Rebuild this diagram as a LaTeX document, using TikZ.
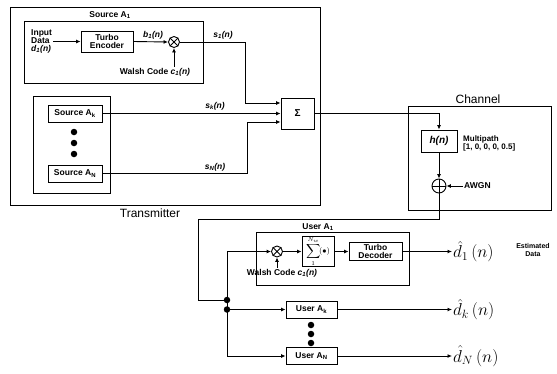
\documentclass[tikz,border=0pt]{standalone}
\usepackage{fontspec}
\setmainfont{Liberation Sans}
\usetikzlibrary{arrows.meta}
\begin{document}
\begin{tikzpicture}[x=1pt,y=-1pt,
  blk/.style={draw,line width=0.9pt,inner sep=0pt,align=center,font=\fontsize{8.5}{9}\selectfont\bfseries},
  lbl/.style={inner sep=1pt,font=\fontsize{8.5}{9}\selectfont\bfseries,align=left},
  ttl/.style={inner sep=1pt,font=\fontsize{12}{14}\selectfont},
  mth/.style={inner sep=1pt,font=\fontsize{17}{19}\selectfont,anchor=west},
  mul/.style={draw,circle,line width=0.9pt,minimum size=11pt,inner sep=0pt},
  dotc/.style={fill,circle,minimum size=6.5pt,inner sep=0pt},
  ln/.style={line width=0.9pt},
  arr/.style={line width=0.9pt,-{Latex[length=4.5pt,width=4pt]}}]
\useasboundingbox (0,0) rectangle (557,373);
% Transmitter
\node[blk,minimum width=310pt,minimum height=198pt] (tx) at (165,106) {};
\node[ttl] (txl) at (150,213) {Transmitter};
\node[blk,minimum width=179pt,minimum height=62pt] (s1) at (113.5,52) {};
\node[lbl,anchor=south] (s1l) at (110,20) {Source A\textsubscript{1}};
\node[lbl,anchor=west,font=\fontsize{8.5}{8}\selectfont\bfseries] (in) at (30,41) {Input\\Data\\\textit{d\textsubscript{1}(n)}};
\node[blk,minimum width=52pt,minimum height=21pt,font=\fontsize{8.5}{8.5}\selectfont\bfseries] (enc) at (107,41.5) {Turbo\\Encoder};
\node[mul] (m1) at (174,42) {};
\draw[ln] (m1.45)--(m1.225) (m1.135)--(m1.315);
\node[lbl] (b1) at (153,35) {\textit{b\textsubscript{1}(n)}};
\node[lbl] (w1) at (155,72) {Walsh Code \textit{c\textsubscript{1}(n)}};
\node[lbl] (s1o) at (223,35) {\textit{s\textsubscript{1}(n)}};
\node[blk,minimum width=33pt,minimum height=31pt,font=\fontsize{10}{10}\selectfont\bfseries] (sig) at (297.5,113.5) {Σ};
\node[blk,minimum width=77pt,minimum height=97pt] (grp) at (71.5,144.5) {};
\node[blk,minimum width=54pt,minimum height=17pt] (sk) at (75,113.5) {Source A\textsubscript{k}};
\node[blk,minimum width=54pt,minimum height=17pt] (sn) at (75,173.5) {Source A\textsubscript{N}};
\node[dotc] (d1) at (74,132) {};
\node[dotc] (d2) at (74,143) {};
\node[dotc] (d3) at (74,154) {};
\node[lbl] (skl) at (215,106) {\textit{s\textsubscript{k}(n)}};
\node[lbl] (snl) at (215,167) {\textit{s\textsubscript{N}(n)}};
\coordinate (c1) at (245,42);
\coordinate (c2) at (245,103);
\coordinate (c3) at (247,173.5);
\coordinate (c4) at (247,122);
\draw[arr] (in.east|-enc) -- (enc.west);
\draw[arr] (enc.east) -- (m1.west);
\draw[arr] (w1.north-|m1) -- (m1.south);
\draw[arr] (m1.east) -- (c1) -- (c2) -- (sig.west|-c2);
\draw[arr] (sk.east) -- (sig.west|-sk);
\draw[arr] (sn.east) -- (c3) -- (c4) -- (sig.west|-c4);
% Channel
\node[blk,minimum width=143pt,minimum height=104pt] (ch) at (479.5,158) {};
\node[ttl,anchor=south] (chl) at (478,105) {Channel};
\node[blk,minimum width=36pt,minimum height=22pt,font=\fontsize{10}{10}\selectfont\bfseries] (h) at (439,141) {\textit{h(n)}};
\node[lbl,anchor=west,font=\fontsize{8}{8}\selectfont\bfseries] (mp) at (462,143) {Multipath\\{[}1, 0, 0, 0, 0.5{]}};
\node[mul,minimum size=14pt] (add) at (439,186) {};
\draw[ln] (add.north)--(add.south) (add.east)--(add.west);
\node[lbl,anchor=west] (awgn) at (463,186) {AWGN};
\coordinate (c5) at (439,113.5);
\draw[arr] (sig.east) -- (c5) -- (h.north);
\draw[arr] (h.south) -- (add.north);
\draw[arr] (awgn.west) -- (add.east);
% Receiver
\node[dotc] (j1) at (227,300) {};
\node[dotc] (j2) at (227,309.5) {};
\coordinate (c6) at (439,219);
\coordinate (c7) at (198,219);
\coordinate (c8) at (198,300);
\draw[ln] (add.south) -- (c6) -- (c7) -- (c8) -- (j1);
\node[blk,minimum width=153pt,minimum height=53pt] (u1) at (332.5,258.5) {};
\node[lbl,anchor=south] (u1l) at (318,232) {User A\textsubscript{1}};
\node[mul] (m2) at (277,251.5) {};
\draw[ln] (m2.45)--(m2.225) (m2.135)--(m2.315);
\node[lbl] (w2) at (282,273) {Walsh Code \textit{c\textsubscript{1}(n)}};
\node[blk,minimum width=32pt,minimum height=30pt,font=\fontsize{8}{8}\selectfont] (sum) at (318,251.5) {$\displaystyle\sum_{1}^{N_w}\!(\bullet)$};
\node[blk,minimum width=53pt,minimum height=18pt,font=\fontsize{8.5}{8}\selectfont\bfseries] (dec) at (375.5,251.5) {Turbo\\Decoder};
\node[mth] (o1) at (452,251.5) {$\hat{d}_1\,(n)$};
\node[lbl,align=center,font=\fontsize{7}{7.5}\selectfont\bfseries] (est) at (533,250) {Estimated\\Data};
\node[blk,minimum width=51pt,minimum height=17pt] (uk) at (311.5,309.5) {User A\textsubscript{k}};
\node[blk,minimum width=51pt,minimum height=17pt] (un) at (311.5,356) {User A\textsubscript{N}};
\node[dotc] (e1) at (311,325) {};
\node[dotc] (e2) at (311,334) {};
\node[dotc] (e3) at (311,343) {};
\node[mth] (ok) at (452,309.5) {$\hat{d}_k\,(n)$};
\node[mth] (on) at (452,356) {$\hat{d}_N\,(n)$};
\coordinate (c9) at (227,251.5);
\coordinate (c10) at (227,356);
\draw[ln] (c9) -- (c10);
\draw[arr] (c9) -- (m2.west);
\draw[arr] (w2.north-|m2) -- (m2.south);
\draw[arr] (m2.east) -- (sum.west);
\draw[arr] (sum.east) -- (dec.west);
\draw[arr] (dec.east) -- (o1.west);
\draw[arr] (j2) -- (uk.west);
\draw[arr] (c10) -- (un.west);
\draw[arr] (uk.east) -- (ok.west);
\draw[arr] (un.east) -- (on.west);
\end{tikzpicture}
\end{document}
